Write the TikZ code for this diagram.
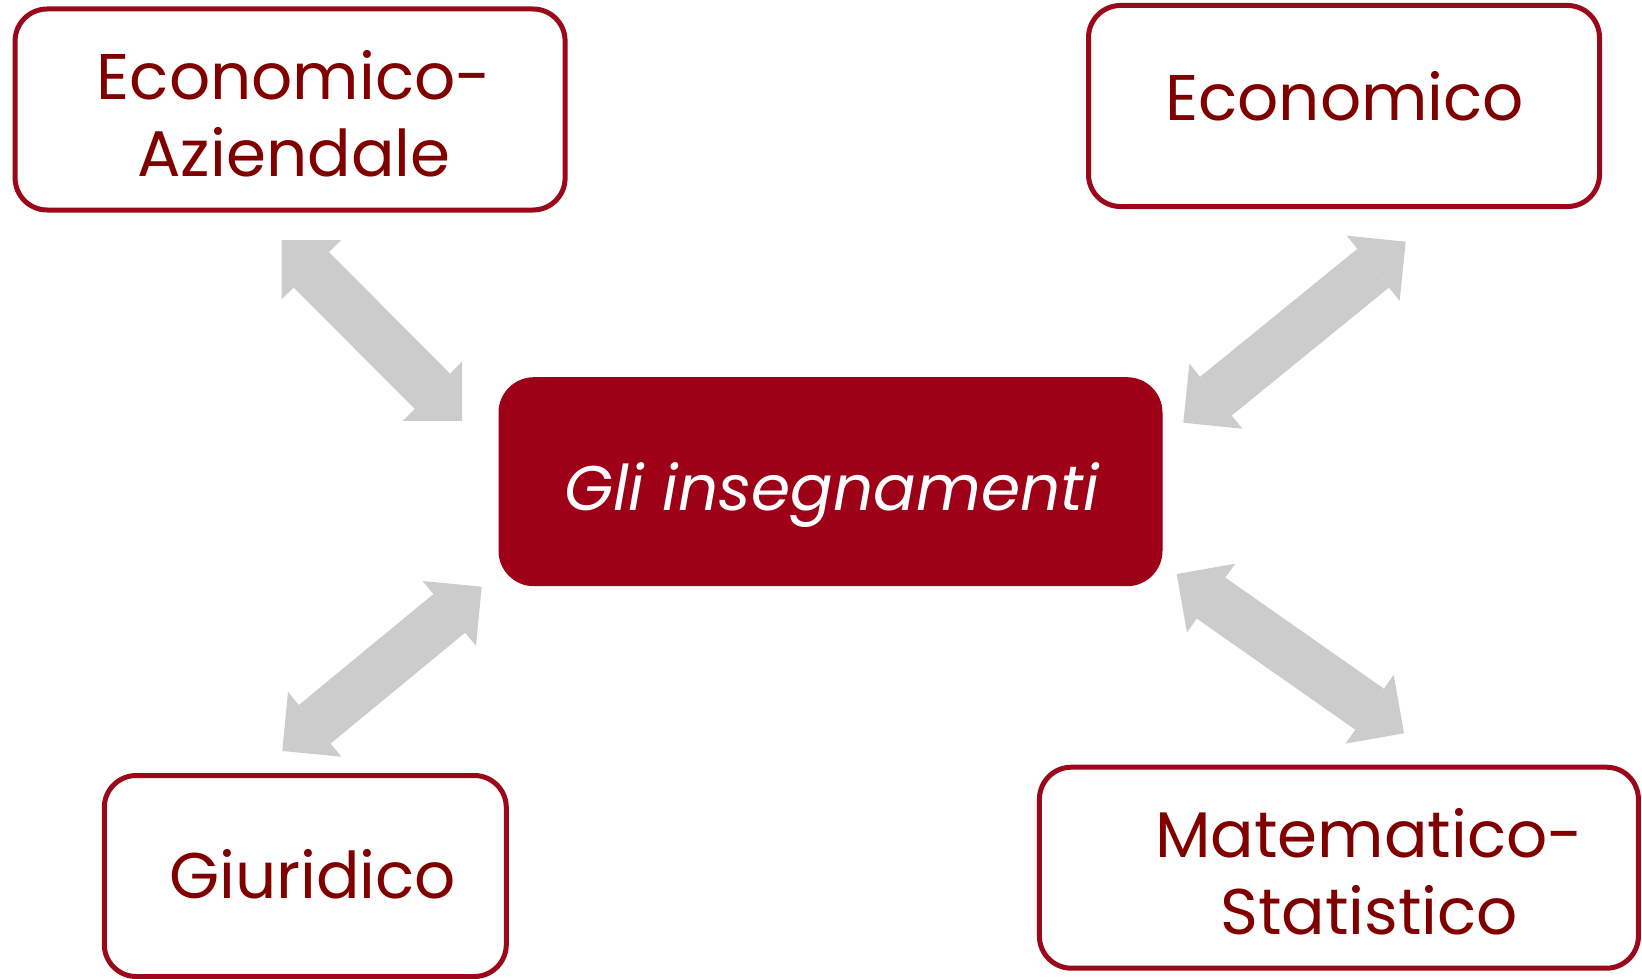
\documentclass[tikz,border=0pt]{standalone}
\usepackage{fontspec}
\setmainfont{Poppins}
\usetikzlibrary{arrows.meta}
\definecolor{boxred}{RGB}{155,8,26}
\definecolor{textred}{RGB}{128,0,0}
\definecolor{centerred}{RGB}{158,0,24}
\definecolor{arrowgray}{RGB}{204,204,204}
\tikzset{
  outerbox/.style={draw=boxred, line width=5pt, fill=white, rounded corners=32pt, inner sep=0pt, rectangle},
  centerbox/.style={fill=centerred, draw=centerred, line width=1pt, rounded corners=35pt, inner sep=0pt, rectangle},
  boxtext/.style={text=textred, font=\fontsize{64.5}{76.5}\selectfont, align=center, inner sep=0pt, anchor=base},
  centertext/.style={text=white, font=\fontsize{63}{76.5}\selectfont\itshape, inner sep=0pt, anchor=base},
  dblarrow/.style={draw=arrowgray, line width=50pt,
    {Triangle[length=42pt,width=84pt,line width=0pt]}-{Triangle[length=42pt,width=84pt,line width=0pt]}},
}
\begin{document}
\begin{tikzpicture}[x=1pt,y=-1pt]
\useasboundingbox (0,0) rectangle (1642,979);
% boxes
\node[outerbox, minimum width=550pt, minimum height=201pt] (ea) at (290.1,109.5) {};
\node[outerbox, minimum width=511pt, minimum height=201pt] (ec) at (1344,106) {};
\node[centerbox, minimum width=663pt, minimum height=208pt] (gi) at (830.5,481.7) {};
\node[outerbox, minimum width=402pt, minimum height=201pt] (gu) at (305.3,876) {};
\node[outerbox, minimum width=599pt, minimum height=201pt] (ms) at (1338.9,867.7) {};
% texts
\node[boxtext] (tea) at (294,176) {Economico-\\Aziendale};
\node[boxtext] (tec) at (1344.6,120.4) {Economico};
\node[centertext] (tgi) at (831.5,510) {Gli insegnamenti};
\node[boxtext] (tgu) at (312.6,898.5) {Giuridico};
\node[boxtext] (tms) at (1369,934) {Matematico-\\Statistico};
% arrow ends
\coordinate (a1s) at (281.7,240);
\coordinate (a1e) at (462,421);
\coordinate (a2s) at (1183.3,422.7);
\coordinate (a2e) at (1405.7,241.7);
\coordinate (a3s) at (282.3,751);
\coordinate (a3e) at (481.7,586.7);
\coordinate (a4s) at (1176.7,574);
\coordinate (a4e) at (1404,733.3);
% arrows
\draw[dblarrow] (a1s) -- (a1e);
\draw[dblarrow] (a2s) -- (a2e);
\draw[dblarrow] (a3s) -- (a3e);
\draw[dblarrow] (a4s) -- (a4e);
\end{tikzpicture}
\end{document}
